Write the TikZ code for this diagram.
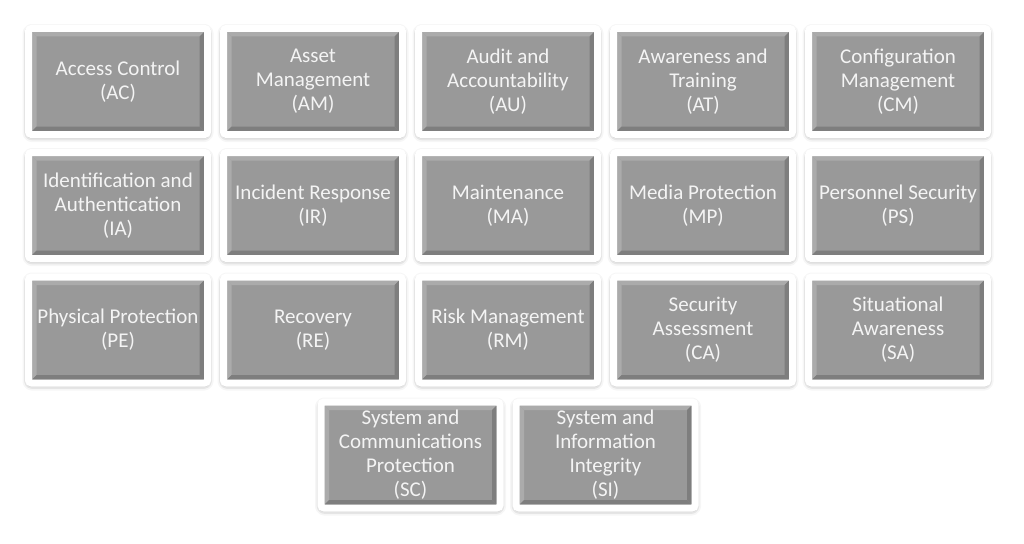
\documentclass[tikz,border=0pt]{standalone}
\usepackage{fontspec}
\setmainfont{Carlito}
\usepackage{tikz}
\usetikzlibrary{shadows.blur}

\definecolor{cellgray}{HTML}{999999}
\definecolor{bevellight}{HTML}{ABABAB}
\definecolor{beveldark}{HTML}{7E7E7E}
\definecolor{celltext}{HTML}{F4F4F4}

\tikzset{
  cellbox/.style={rectangle, rounded corners=3pt, fill=cellgray, draw=white, line width=7pt,
    minimum width=179pt, minimum height=106pt, inner sep=0pt,
    align=center, text=celltext, font=\fontsize{21}{24}\selectfont,
    blur shadow={shadow xshift=0pt, shadow yshift=-1.5pt,
      shadow blur radius=6pt, shadow opacity=55},
    path picture={
      \coordinate (nw) at ([shift={(3.5pt,-3.5pt)}]path picture bounding box.north west);
      \coordinate (se) at ([shift={(-3.5pt,3.5pt)}]path picture bounding box.south east);
      \fill[sharp corners, bevellight] (nw) -- (nw -| se) -- ([shift={(-4.5pt,-4.5pt)}]nw -| se)
        -- ([shift={(4.5pt,-4.5pt)}]nw) -- cycle;
      \fill[sharp corners, bevellight] (nw) -- (nw |- se) -- ([shift={(4.5pt,4.5pt)}]nw |- se)
        -- ([shift={(4.5pt,-4.5pt)}]nw) -- cycle;
      \fill[sharp corners, beveldark] (se) -- (nw |- se) -- ([shift={(4.5pt,4.5pt)}]nw |- se)
        -- ([shift={(-4.5pt,4.5pt)}]se) -- cycle;
      \fill[sharp corners, beveldark] (se) -- (nw -| se) -- ([shift={(-4.5pt,-4.5pt)}]nw -| se)
        -- ([shift={(-4.5pt,4.5pt)}]se) -- cycle;
    }},
}

\begin{document}
\begin{tikzpicture}[x=1pt,y=-1pt]
\useasboundingbox (0,0) rectangle (1024,543);

% First row
\foreach \name/\txt [count=\i from 0] in {
    AC/{Access Control\\(AC)},
    AM/{Asset\\Management\\(AM)},
    AU/{Audit and\\Accountability\\(AU)},
    AT/{Awareness and\\Training\\(AT)},
    CM/{Configuration\\Management\\(CM)}} {
  \node[cellbox] (\name) at ({118+195*\i},81.5) {\txt};
}

% Second row
\foreach \name/\txt [count=\i from 0] in {
    IA/{Identification and\\Authentication\\(IA)},
    IR/{Incident Response\\(IR)},
    MA/{Maintenance\\(MA)},
    MP/{Media Protection\\(MP)},
    PS/{Personnel Security\\(PS)}} {
  \node[cellbox] (\name) at ({118+195*\i},205.5) {\txt};
}

% Third row
\foreach \name/\txt [count=\i from 0] in {
    PE/{Physical Protection\\(PE)},
    RE/{Recovery\\(RE)},
    RM/{Risk Management\\(RM)},
    CA/{Security\\Assessment\\(CA)},
    SA/{Situational\\Awareness\\(SA)}} {
  \node[cellbox] (\name) at ({118+195*\i},330) {\txt};
}

% Last row, two boxes
\node[cellbox] (SC) at (410.5,455) {System and\\Communications\\Protection\\(SC)};
\node[cellbox] (SI) at (605.5,455) {System and\\Information\\Integrity\\(SI)};
\end{tikzpicture}
\end{document}
